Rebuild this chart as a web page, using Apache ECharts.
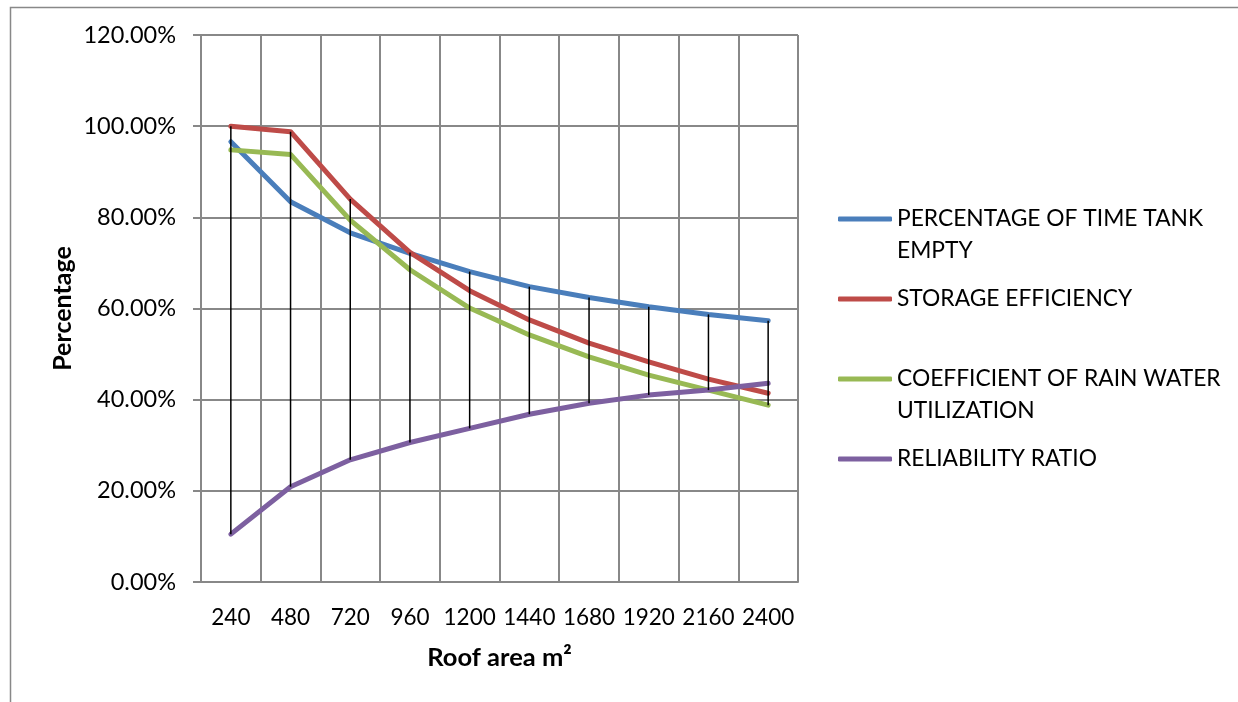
<!DOCTYPE html>
<html>
<head>
<meta charset="utf-8">
<script src="https://cdn.jsdelivr.net/npm/echarts@6/dist/echarts.min.js"></script>
<style>
html,body{margin:0;padding:0;background:#fff;}
#chart{width:1238px;height:702px;}
</style>
</head>
<body>
<div id="chart"></div>
<script>
const categories = ['240','480','720','960','1200','1440','1680','1920','2160','2400'];
const seriesNames = ['PERCENTAGE OF TIME TANK EMPTY','STORAGE EFFICIENCY','COEFFICIENT OF RAIN WATER UTILIZATION','RELIABILITY RATIO'];
const legendLabels = ['PERCENTAGE OF TIME TANK\nEMPTY','STORAGE EFFICIENCY','COEFFICIENT OF RAIN WATER\nUTILIZATION','RELIABILITY RATIO'];
const tankEmpty = [96.6, 83.4, 76.6, 72.1, 68.1, 64.8, 62.4, 60.4, 58.7, 57.3];
const storageEff = [100.0, 98.8, 84.0, 72.3, 63.9, 57.5, 52.4, 48.3, 44.5, 41.4];
const rainCoef = [94.8, 93.8, 79.4, 68.5, 60.1, 54.2, 49.4, 45.4, 42.1, 38.8];
const reliability = [10.5, 20.9, 26.8, 30.6, 33.7, 36.8, 39.2, 41.0, 42.1, 43.6];
const yTicks = {min: 0, max: 120, interval: 20};
const colors = ['#4A7EBB', '#BE4B48', '#98B954', '#7D60A0'];

const allSeries = [tankEmpty, storageEff, rainCoef, reliability];
const hiLo = categories.map((c, i) => {
  const vals = allSeries.map(s => s[i]);
  return [i, Math.max(...vals), Math.min(...vals)];
});

const FONT = 'Lato';
const chart = echarts.init(document.getElementById('chart'));

const legendTops = [219, 299, 379, 459];
const legends = seriesNames.map((n, k) => {
  const twoLine = legendLabels[k].indexOf('\n') >= 0;
  return {
    data: [n],
    left: 838,
    top: legendTops[k] - (twoLine ? 48 : 16),
    padding: 0,
    itemWidth: 54,
    itemHeight: 5,
    icon: 'roundRect',
    selectedMode: false,
    formatter: () => twoLine ? ' \n' + legendLabels[k] : legendLabels[k],
    textStyle: {fontFamily: FONT, fontSize: 22.8, color: '#000', lineHeight: 32}
  };
});

const lineSeries = seriesNames.map((n, k) => ({
  name: n,
  type: 'line',
  data: allSeries[k],
  symbol: 'none',
  lineStyle: {width: 5, color: colors[k], cap: 'round', join: 'round'},
  itemStyle: {color: colors[k]},
  z: 3
}));

chart.setOption({
  animation: false,
  backgroundColor: '#fff',
  color: colors,
  graphic: [{
    type: 'rect', left: 8, top: 5, silent: true,
    shape: {width: 1250, height: 720},
    style: {fill: 'none', stroke: '#888', lineWidth: 1.5}
  }],
  grid: {left: 201, right: 440, top: 35, bottom: 120},
  legend: legends,
  xAxis: {
    type: 'category',
    data: categories,
    boundaryGap: true,
    name: 'Roof area m²',
    nameLocation: 'middle',
    nameGap: 63,
    nameTextStyle: {fontFamily: FONT, fontSize: 25.5, fontWeight: 'bold', color: '#000'},
    axisLine: {show: true, lineStyle: {color: '#888', width: 2}},
    axisTick: {show: false},
    axisLabel: {fontFamily: FONT, fontSize: 22.5, color: '#000', margin: 24, interval: 0},
    splitLine: {show: true, interval: 0, lineStyle: {color: '#888', width: 2}}
  },
  yAxis: {
    type: 'value',
    min: yTicks.min, max: yTicks.max, interval: yTicks.interval,
    name: 'Percentage',
    nameLocation: 'middle',
    nameGap: 126,
    nameRotate: 90,
    nameTextStyle: {fontFamily: FONT, fontSize: 25, fontWeight: 'bold', color: '#000'},
    axisLine: {show: true, lineStyle: {color: '#888', width: 2}},
    axisTick: {show: true, length: 8, lineStyle: {color: '#888', width: 2}},
    axisLabel: {fontFamily: FONT, fontSize: 23.5, color: '#000', margin: 25,
      formatter: v => v.toFixed(2) + '%'},
    splitLine: {show: true, lineStyle: {color: '#888', width: 2}}
  },
  series: lineSeries.concat([{
    type: 'custom',
    name: 'hilo',
    data: hiLo,
    z: 5,
    renderItem: (params, api) => {
      const p1 = api.coord([api.value(0), api.value(1)]);
      const p2 = api.coord([api.value(0), api.value(2)]);
      return {type: 'line', shape: {x1: p1[0], y1: p1[1], x2: p2[0], y2: p2[1]},
        style: {stroke: '#000', lineWidth: 1.5}};
    }
  }])
});
</script>
</body>
</html>
